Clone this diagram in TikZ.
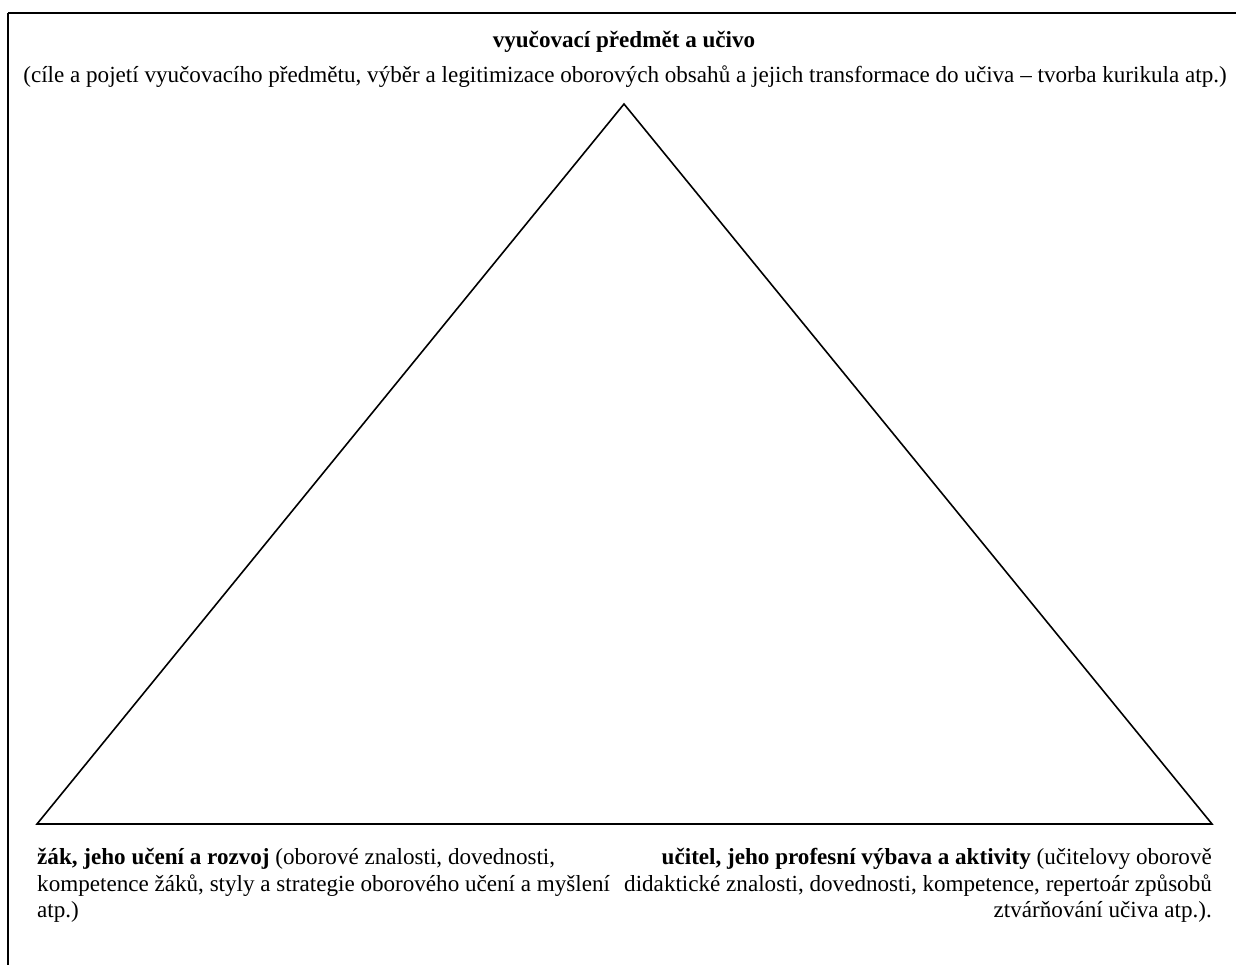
\documentclass[tikz,border=0pt]{standalone}
\usepackage{fontspec}
\setmainfont{Liberation Serif}
\begin{document}
\begin{tikzpicture}[x=1pt,y=-1pt,
  txt/.style={inner sep=0pt,font=\fontsize{23.1}{26.6}\selectfont},
  frame/.style={line width=2.2pt},
  tri/.style={line width=1.6pt,line join=miter}]
\useasboundingbox (0,0) rectangle (1236,965);
\clip (0,0) rectangle (1236,965);
\draw[frame] (8,13) -- (1250,13) (8,13) -- (8,980);
\coordinate (apex) at (624,104);
\coordinate (bl) at (37,824);
\coordinate (br) at (1212,824);
\draw[tri] (apex) -- (bl) -- (br) -- cycle;
\node[txt,anchor=base] (title) at (624,48) {\textbf{vyučovací předmět a učivo}};
\node[txt,anchor=base] (sub) at (625,83) {(cíle a pojetí vyučovacího předmětu, výběr a legitimizace oborových obsahů a jejich transformace do učiva – tvorba kurikula atp.)};
\node[txt,anchor=north west,align=left] (zak) at (37,848) {\textbf{žák, jeho učení a rozvoj} (oborové znalosti, dovednosti,\\kompetence žáků, styly a strategie oborového učení a myšlení\\atp.)};
\node[txt,anchor=north east,align=right] (ucitel) at (1212,848) {\textbf{učitel, jeho profesní výbava a aktivity} (učitelovy oborově\\didaktické znalosti, dovednosti, kompetence, repertoár způsobů\\ztvárňování učiva atp.).};
\end{tikzpicture}
\end{document}
